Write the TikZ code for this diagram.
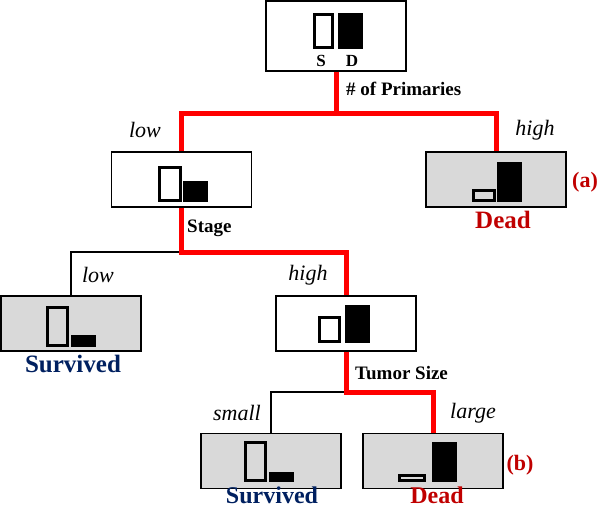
\documentclass[tikz,border=0pt]{standalone}
\usepackage{fontspec}
\setmainfont{Liberation Serif}
\usepackage{tikz}
\usetikzlibrary{positioning}
\definecolor{leafgray}{RGB}{217,217,217}
\definecolor{deadred}{RGB}{192,0,0}
\definecolor{survblue}{RGB}{0,32,96}
\newcommand{\hotw}{5pt}
\newcommand{\coldw}{1.3pt}
% #1 node, #2 hollow left, #3 hollow right, #4 filled left, #5 base, #6 hollow top, #7 filled top
\newcommand{\barpair}[7]{%
\draw[line width=3pt] ([shift={(#2+1.5,#6+1.5)}]#1.center) rectangle ([shift={(#3-1.5,#5-1.5)}]#1.center);
\fill ([shift={(#4,#7)}]#1.center) rectangle ([shift={(#4+25,#5)}]#1.center);
}
\tikzset{
  box/.style={draw, line width=1.4pt, minimum width=140pt, minimum height=55pt, inner sep=0pt},
  leaf/.style={box, fill=leafgray},
  hot/.style={red, line width=\hotw},
  cold/.style={black, line width=\coldw},
  splitlab/.style={font=\fontsize{19}{21}\selectfont\bfseries, anchor=west, inner sep=0pt},
  branchlab/.style={font=\fontsize{22}{25}\selectfont\itshape, inner sep=0pt},
  deadlab/.style={font=\fontsize{25}{28}\selectfont\bfseries, text=deadred, inner sep=0pt},
  survlab/.style={font=\fontsize{25}{28}\selectfont\bfseries, text=survblue, inner sep=0pt},
  caselab/.style={font=\fontsize{22}{24}\selectfont\bfseries, text=deadred, inner sep=0pt},
}
\begin{document}
\begin{tikzpicture}[x=1pt, y=-1pt]
\useasboundingbox (0,0) rectangle (600,509);
% boxes
\node[box, minimum height=70pt] (root) at (336,36) {};
\node[box] (stage) at (181.5,179.5) {};
\node[leaf] (deadA) at (496,179.5) {};
\node[leaf] (survA) at (71,323.5) {};
\node[box] (tumor) at (346,323.5) {};
\node[leaf] (survB) at (271,461) {};
\node[leaf] (deadB) at (433,461) {};
% split points
\coordinate (j1) at (root.south |- 0,113);
\coordinate (j2) at (stage.south |- 0,252);
\coordinate (j3) at (tumor.south |- 0,392);
% connectors
\draw[cold] (j2) -| (survA.north);
\draw[cold] (j3) -| (survB.north);
\draw[hot] (root.south) -- (j1);
\draw[hot] (stage.north) |- (j1) -| (deadA.north);
\draw[hot] (stage.south) -- (j2) -| (tumor.north);
\draw[hot] (tumor.south) -- (j3) -| (deadB.north);
% bars
\barpair{root}{-23}{-2}{2}{13}{-23}{-23}
\barpair{stage}{-23.5}{0.5}{1.5}{22.5}{-13.5}{1.5}
\barpair{deadA}{-24}{0}{1}{22.5}{9.5}{-17.5}
\barpair{survA}{-25}{-2}{0}{23.5}{-17.5}{11.5}
\barpair{tumor}{-28}{-5}{-1}{19.5}{-7.5}{-18.5}
\barpair{survB}{-27}{-4}{-2}{21}{-20}{11}
\barpair{deadB}{-35}{-7}{-1}{21}{13}{-19}
\node[font=\fontsize{17}{19}\selectfont\bfseries, inner sep=0pt] (sl) at (321,60.5) {S};
\node[font=\fontsize{17}{19}\selectfont\bfseries, inner sep=0pt] (dl) at (352,60.5) {D};
% split labels
\node[splitlab] (prim) at (346,89) {\# of Primaries};
\node[splitlab] (stg) at (187,228) {Stage};
\node[splitlab] (tsz) at (355,373) {Tumor Size};
% branch labels
\node[branchlab] (lo1) at (145,130) {low};
\node[branchlab] (hi1) at (535,130) {high};
\node[branchlab] (lo2) at (98,275) {low};
\node[branchlab] (hi2) at (308,275) {high};
\node[branchlab] (sm) at (237,413) {small};
\node[branchlab] (lg) at (473,413) {large};
% outcomes
\node[deadlab] (dA) at (503,220) {Dead};
\node[survlab] (sA) at (73,364) {Survived};
\node[survlab, font=\fontsize{24}{26}\selectfont\bfseries, anchor=base] (sB) at (272,503) {Survived};
\node[deadlab, font=\fontsize{24}{26}\selectfont\bfseries, anchor=base] (dB) at (437,503) {Dead};
\node[caselab] (ca) at (585,182) {(a)};
\node[caselab] (cb) at (520,465) {(b)};
\end{tikzpicture}
\end{document}
